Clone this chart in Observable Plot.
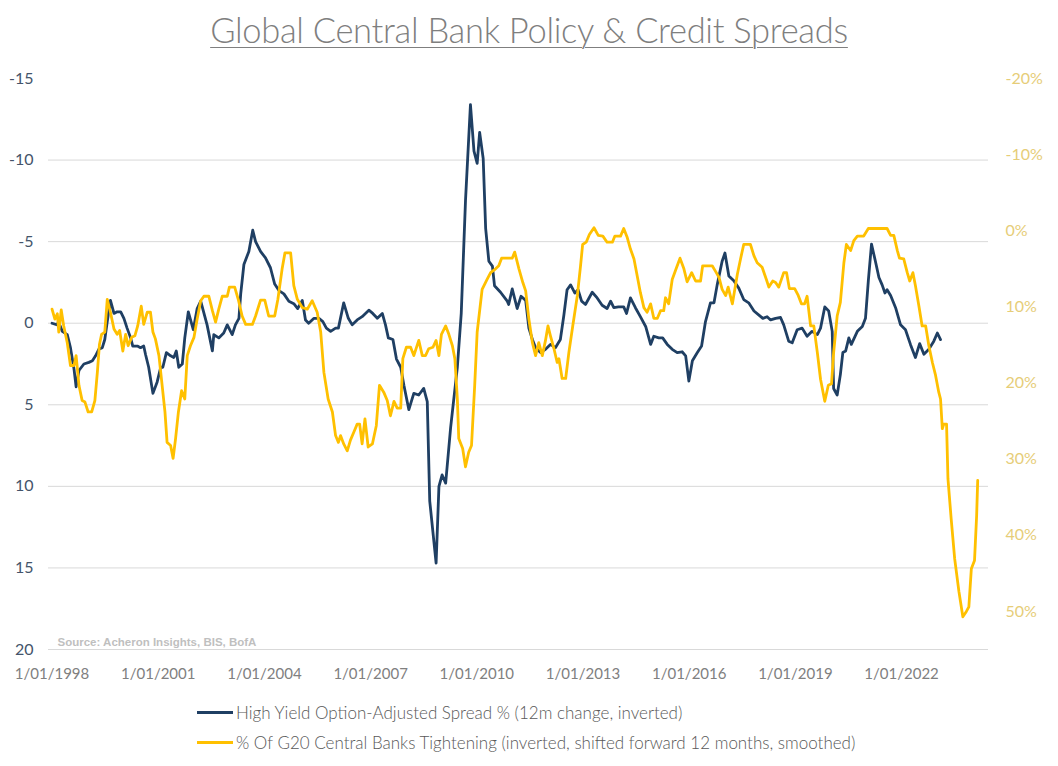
<!DOCTYPE html>
<html><head><meta charset="utf-8">
<script src="https://cdn.jsdelivr.net/npm/d3@7"></script>
<script src="https://cdn.jsdelivr.net/npm/@observablehq/plot@0.6"></script>
<style>
body{margin:0;background:#fff;width:1058px;height:766px;overflow:hidden;font-family:Lato,"Open Sans",sans-serif;position:relative}
#title{position:absolute;left:0;top:9px;width:1058px;text-align:center;font-size:34.5px;font-weight:300;color:#7f7f7f;text-decoration:underline;text-decoration-thickness:1px;text-underline-offset:4px;letter-spacing:-0.3px}
#chart{position:absolute;left:0;top:62px}
#legend{position:absolute;left:197px;top:700px;font-size:17px;font-weight:300;color:#595959}
.item{display:flex;align-items:center;height:24px;margin-bottom:6px}
.sw{width:36px;height:3px;margin-right:3px}
</style></head>
<body>
<div id="title">Global Central Bank Policy &amp; Credit Spreads</div>
<div id="chart"></div>
<div id="legend"></div>
<script>
// High Yield Option-Adjusted Spread % (12m change, inverted) — left axis
const hyYears = [1998.00,1998.15,1998.18,1998.29,1998.43,1998.52,1998.62,1998.68,1998.76,1998.90,1999.04,1999.14,1999.23,1999.32,1999.42,1999.49,1999.56,1999.65,1999.75,1999.84,1999.94,2000.03,2000.12,2000.22,2000.28,2000.41,2000.50,2000.59,2000.64,2000.73,2000.85,2000.97,2001.07,2001.13,2001.23,2001.35,2001.44,2001.51,2001.58,2001.68,2001.75,2001.85,2001.99,2002.10,2002.20,2002.38,2002.53,2002.57,2002.71,2002.85,2002.95,2003.09,2003.18,2003.28,2003.33,2003.42,2003.56,2003.67,2003.75,2003.89,2004.03,2004.17,2004.29,2004.41,2004.55,2004.69,2004.83,2004.94,2005.07,2005.16,2005.25,2005.40,2005.54,2005.65,2005.75,2005.87,2006.01,2006.09,2006.24,2006.37,2006.48,2006.62,2006.76,2006.95,2007.06,2007.19,2007.33,2007.42,2007.50,2007.63,2007.73,2007.85,2007.94,2008.08,2008.22,2008.36,2008.50,2008.60,2008.67,2008.85,2008.93,2009.02,2009.12,2009.26,2009.45,2009.56,2009.68,2009.82,2009.92,2010.01,2010.08,2010.18,2010.25,2010.34,2010.44,2010.50,2010.67,2010.86,2010.90,2011.00,2011.14,2011.25,2011.38,2011.47,2011.57,2011.66,2011.80,2011.94,2012.08,2012.22,2012.36,2012.46,2012.55,2012.65,2012.77,2012.86,2012.96,2013.07,2013.26,2013.40,2013.54,2013.68,2013.78,2013.87,2014.00,2014.15,2014.23,2014.34,2014.48,2014.62,2014.77,2014.91,2015.00,2015.14,2015.25,2015.38,2015.52,2015.66,2015.80,2015.90,2015.99,2016.09,2016.23,2016.35,2016.46,2016.60,2016.70,2016.79,2016.93,2017.01,2017.12,2017.26,2017.40,2017.54,2017.68,2017.83,2017.97,2018.08,2018.20,2018.30,2018.44,2018.58,2018.67,2018.81,2018.91,2019.05,2019.19,2019.33,2019.47,2019.62,2019.71,2019.83,2019.94,2020.04,2020.08,2020.18,2020.27,2020.34,2020.42,2020.51,2020.58,2020.75,2020.89,2020.98,2021.06,2021.15,2021.26,2021.36,2021.45,2021.53,2021.59,2021.69,2021.83,2021.97,2022.11,2022.25,2022.39,2022.51,2022.63,2022.77,2022.91,2023.01,2023.10];
const hyValues = [0.0,0.1,-0.1,0.5,0.7,1.5,2.8,3.9,2.9,2.5,2.4,2.3,2.0,1.6,1.5,1.0,-0.1,-1.4,-0.6,-0.7,-0.7,-0.3,0.3,0.9,1.4,1.4,1.5,1.4,1.9,2.7,4.3,3.6,2.7,2.7,1.8,2.0,2.1,1.7,2.7,2.5,0.9,-0.7,0.4,-0.9,-1.35,0.1,1.7,0.7,0.9,0.6,0.1,0.7,0.1,-0.3,-1.8,-3.6,-4.4,-5.7,-5.0,-4.4,-4.0,-3.4,-2.4,-2.0,-1.8,-1.35,-1.2,-0.9,-1.4,-0.2,0.0,-0.3,-0.3,-0.1,0.3,0.5,0.3,0.3,-1.25,-0.3,0.1,-0.2,-0.4,-0.8,-0.6,-0.3,-0.6,0.1,0.9,1.0,2.2,2.7,3.8,5.3,4.3,4.4,4.0,4.8,10.9,14.7,10.0,9.3,9.8,6.4,2.7,-0.6,-7.5,-13.4,-10.55,-9.8,-11.7,-10.1,-5.8,-3.8,-3.5,-2.3,-1.9,-1.35,-1.15,-2.1,-0.9,-1.65,-1.4,0.3,1.0,1.5,1.8,1.6,1.3,1.5,1.0,-0.5,-2.05,-2.35,-1.85,-2.05,-1.35,-1.15,-1.9,-1.55,-1.1,-0.9,-1.35,-0.95,-1.0,-1.0,-0.6,-1.55,-0.95,-0.4,0.2,1.3,0.8,0.9,0.9,1.3,1.6,1.8,1.75,2.0,3.55,2.3,1.8,1.4,-0.1,-1.25,-1.25,-2.35,-3.8,-4.3,-2.9,-2.6,-2.15,-1.45,-1.25,-0.75,-0.5,-0.3,-0.4,-0.2,-0.3,-0.35,0.1,1.1,1.2,0.4,0.3,0.8,0.5,0.7,0.3,-1.0,-0.75,0.5,4.0,4.4,3.15,1.8,1.7,0.9,1.3,0.5,0.2,-0.3,-2.6,-4.85,-3.8,-2.8,-2.35,-1.85,-2.05,-1.7,-0.95,0.1,0.4,1.3,2.1,1.25,1.9,1.6,1.1,0.6,1.0];

// % Of G20 Central Banks Tightening (inverted, shifted forward 12 months, smoothed) — right axis, %
const cbYears = [1998.00,1998.08,1998.15,1998.19,1998.26,1998.33,1998.43,1998.52,1998.62,1998.68,1998.76,1998.85,1998.93,1999.02,1999.12,1999.21,1999.28,1999.34,1999.40,1999.49,1999.56,1999.65,1999.75,1999.84,1999.91,2000.00,2000.08,2000.15,2000.25,2000.34,2000.42,2000.52,2000.59,2000.69,2000.78,2000.85,2000.92,2001.02,2001.11,2001.19,2001.25,2001.35,2001.42,2001.49,2001.57,2001.66,2001.75,2001.82,2001.91,2002.01,2002.10,2002.20,2002.29,2002.43,2002.53,2002.62,2002.71,2002.81,2002.95,2003.01,2003.16,2003.26,2003.37,2003.47,2003.66,2003.75,2003.89,2004.01,2004.12,2004.29,2004.38,2004.50,2004.58,2004.74,2004.83,2004.93,2005.07,2005.21,2005.35,2005.49,2005.59,2005.68,2005.80,2005.92,2006.01,2006.09,2006.15,2006.24,2006.34,2006.43,2006.53,2006.62,2006.69,2006.76,2006.84,2006.93,2007.05,2007.16,2007.25,2007.37,2007.47,2007.56,2007.66,2007.75,2007.85,2007.91,2008.01,2008.13,2008.22,2008.36,2008.46,2008.55,2008.64,2008.76,2008.85,2008.93,2009.00,2009.12,2009.21,2009.31,2009.38,2009.45,2009.49,2009.60,2009.68,2009.77,2009.85,2009.94,2010.01,2010.15,2010.29,2010.39,2010.53,2010.62,2010.70,2010.84,2011.00,2011.07,2011.19,2011.30,2011.38,2011.47,2011.57,2011.66,2011.75,2011.85,2011.94,2012.01,2012.08,2012.18,2012.27,2012.32,2012.41,2012.51,2012.60,2012.71,2012.84,2012.93,2012.99,2013.09,2013.18,2013.31,2013.43,2013.56,2013.68,2013.83,2013.90,2014.06,2014.15,2014.25,2014.34,2014.44,2014.53,2014.62,2014.72,2014.81,2014.91,2015.00,2015.10,2015.19,2015.28,2015.33,2015.42,2015.52,2015.63,2015.74,2015.85,2015.94,2016.07,2016.18,2016.32,2016.38,2016.65,2016.74,2016.84,2016.93,2017.03,2017.10,2017.22,2017.36,2017.45,2017.54,2017.73,2017.83,2017.92,2018.06,2018.18,2018.25,2018.36,2018.44,2018.53,2018.67,2018.75,2018.83,2018.98,2019.08,2019.17,2019.26,2019.33,2019.43,2019.52,2019.62,2019.71,2019.83,2019.93,2020.02,2020.08,2020.18,2020.27,2020.37,2020.44,2020.56,2020.65,2020.75,2020.93,2021.06,2021.59,2021.69,2021.78,2021.88,2021.94,2022.06,2022.16,2022.23,2022.32,2022.39,2022.49,2022.58,2022.68,2022.77,2022.87,2022.96,2023.05,2023.10,2023.15,2023.19,2023.27,2023.31,2023.40,2023.50,2023.62,2023.73,2023.83,2023.90,2023.97,2024.06,2024.12,2024.15];
const cbValues = [10.3,11.6,10.9,13.3,10.4,12.5,14.7,17.7,17.7,16.4,20.3,22.3,22.5,23.8,23.8,22.3,18.6,14.9,13.6,13.3,9.0,10.7,12.9,13.6,13.1,15.8,13.6,15.1,14.0,13.8,12.5,9.9,12.3,10.7,10.7,13.3,14.2,16.4,20.3,23.8,27.8,28.2,29.9,27.3,23.8,21.0,22.1,16.4,15.1,14.0,11.6,9.2,8.6,8.6,10.5,12.0,10.3,8.6,8.6,7.4,7.4,9.0,11.2,12.3,12.3,11.2,9.1,9.1,11.2,11.2,9.0,5.0,2.9,2.9,7.2,9.0,10.1,10.3,9.2,10.7,13.3,18.6,22.1,23.8,26.9,27.8,26.9,28.0,28.9,27.5,26.4,25.4,25.4,28.0,24.7,28.4,28.0,25.6,20.3,21.2,22.3,24.3,22.4,23.3,23.3,16.8,15.3,15.3,16.4,14.4,16.4,16.4,15.5,15.3,14.4,16.4,13.6,12.5,13.6,15.1,16.8,22.1,27.3,28.6,31.0,29.1,28.2,20.3,13.3,7.7,6.4,5.5,5.0,4.6,3.6,3.6,3.6,2.8,5.0,6.8,7.9,11.6,14.7,16.4,14.7,16.4,14.4,12.5,13.8,15.5,17.3,16.8,19.4,19.4,16.0,12.5,8.5,4.6,1.8,1.5,0.5,-0.4,0.6,0.7,1.5,1.5,0.7,0.7,-0.3,0.9,2.4,3.7,5.9,8.1,10.1,10.7,9.6,11.5,11.5,10.5,10.5,8.8,9.6,6.4,5.0,3.6,5.0,6.7,5.5,6.6,6.6,4.6,4.6,5.3,6.1,7.7,8.5,7.4,9.6,5.7,3.7,1.8,1.8,3.3,4.2,4.8,6.4,7.4,6.6,6.8,7.4,5.5,5.5,7.6,7.6,8.5,9.6,9.6,8.6,12.5,12.5,16.0,19.5,22.4,20.3,20.1,16.0,11.2,9.4,4.2,1.8,2.6,1.3,0.7,0.7,-0.3,-0.3,0.6,0.6,2.6,3.6,3.7,5.5,6.6,5.5,7.2,9.9,12.5,12.5,15.1,17.3,19.0,21.2,22.1,26.0,25.4,25.4,32.6,37.8,43.1,47.4,50.7,50.0,49.4,44.4,43.3,37.4,32.8];

const xTicks = [1998,2001,2004,2007,2010,2013,2016,2019,2022];
const leftTicks = [-15,-10,-5,0,5,10,15,20];
const pctTicks = [-20,-10,0,10,20,30,40,50];
const seriesNames = ["High Yield Option-Adjusted Spread % (12m change, inverted)","% Of G20 Central Banks Tightening (inverted, shifted forward 12 months, smoothed)"];
const seriesColors = ["#1f3f63","#FFC000"];
const sourceText = "Source: Acheron Insights, BIS, BofA";

const hy = hyYears.map((y,i)=>({year:y, value:hyValues[i]}));
const cb = cbYears.map((y,i)=>({year:y, value:cbValues[i]}));
// right axis [-20%, 55%] shares the frame with left axis [-15, 20]
const toL = p => -15 + (p + 20) * 35 / 75;
const fromL = v => (v + 15) * 75 / 35 - 20;

const chart = Plot.plot({
  width:1058, height:627,
  marginTop:16, marginBottom:40, marginLeft:48, marginRight:70,
  x:{type:"linear", domain:[1997.9, 2024.455]},
  y:{domain:[-15,20], reverse:true},
  style:{fontFamily:"Lato, 'Open Sans', sans-serif", fontSize:"16px", background:"transparent", overflow:"visible"},
  marks:[
    Plot.gridY(leftTicks.slice(1), {stroke:"#d9d9d9", strokeOpacity:1, strokeWidth:1}),
    Plot.axisY(leftTicks, {anchor:"left", tickSize:0, tickPadding:15, tickFormat:d=>String(d), fill:"#44546a", label:null, fontSize:16}),
    Plot.axisY(pctTicks.map(toL), {anchor:"right", tickSize:0, tickPadding:17, tickFormat:v=>Math.round(fromL(v))+"%", fill:"#e6cd78", label:null, fontSize:16}),
    Plot.axisX(xTicks, {anchor:"bottom", tickSize:0, tickPadding:19, tickFormat:d=>`1/01/${d}`, fill:"#808080", label:null, fontSize:15}),
    Plot.line(hy, {x:"year", y:"value", stroke:seriesColors[0], strokeWidth:2.8}),
    Plot.line(cb, {x:"year", y:d=>toL(d.value), stroke:seriesColors[1], strokeWidth:2.8}),
    Plot.text([sourceText], {frameAnchor:"bottom-left", textAnchor:"start", lineAnchor:"middle", dx:9, dy:-7, fill:"#bfbfbf", fontWeight:"bold", fontSize:11.5, fontFamily:"'Liberation Sans', Arial, sans-serif"})
  ]
});
document.getElementById("chart").appendChild(chart);

const leg = document.getElementById("legend");
seriesNames.forEach((n,i)=>{
  const it = document.createElement("div"); it.className="item";
  const sw = document.createElement("div"); sw.className="sw"; sw.style.background=seriesColors[i];
  const tx = document.createElement("span"); tx.textContent=n;
  it.appendChild(sw); it.appendChild(tx); leg.appendChild(it);
});
</script>
</body></html>
